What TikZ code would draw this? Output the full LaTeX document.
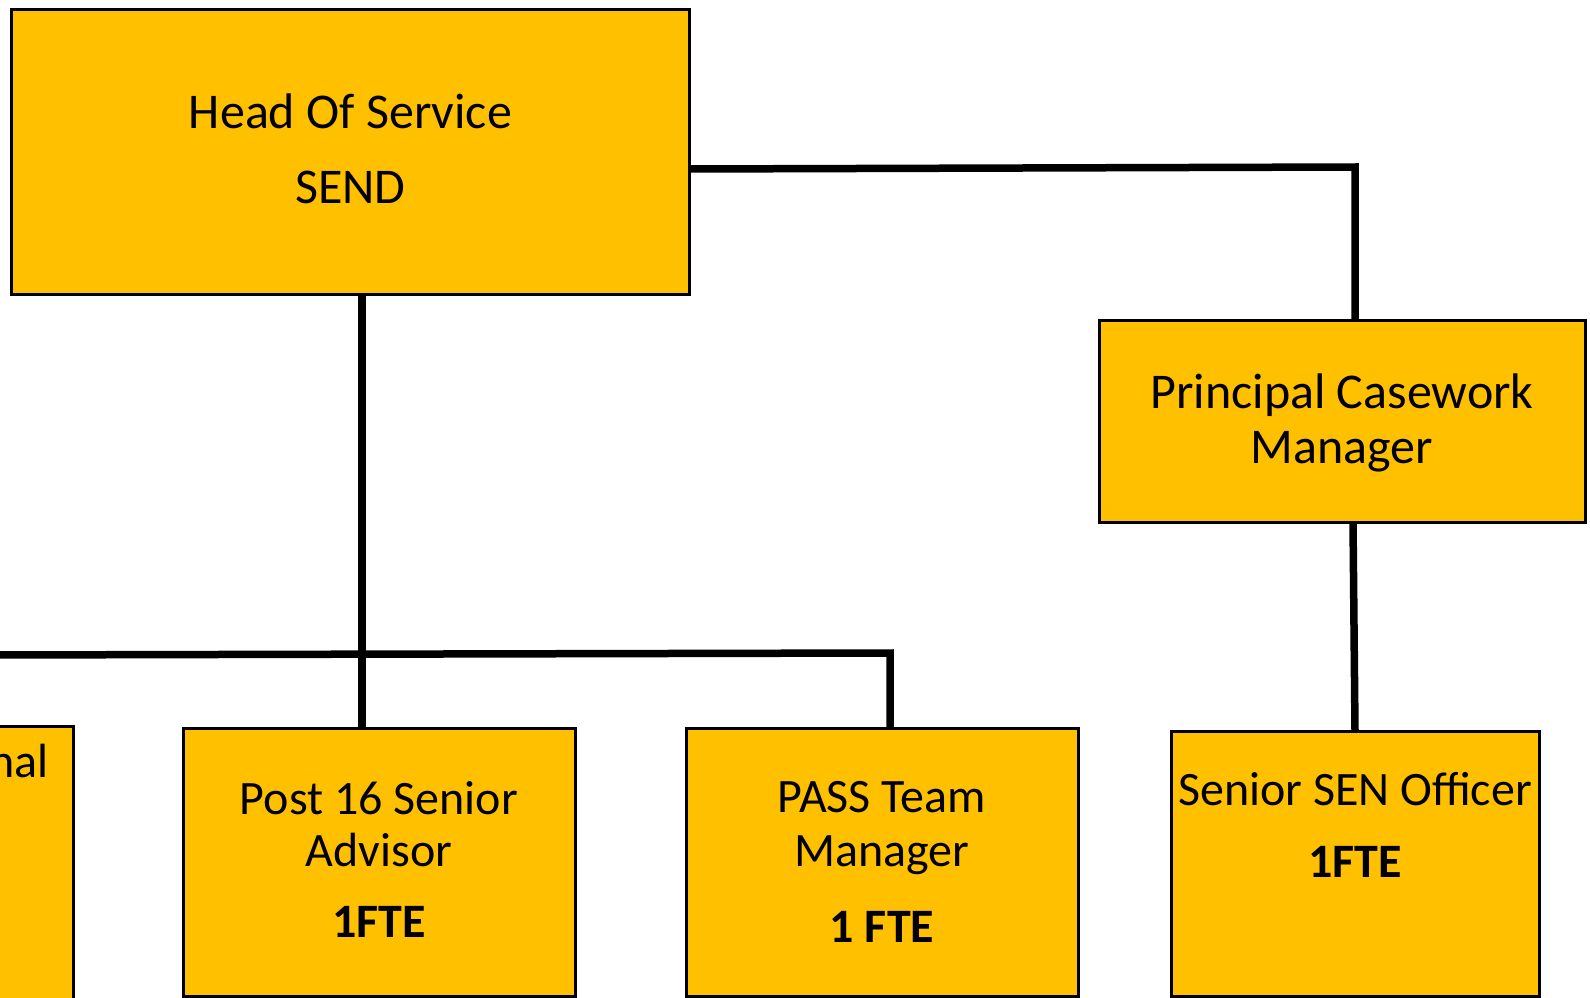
\documentclass[tikz,border=0pt]{standalone}
\usepackage{fontspec}
\setmainfont{Carlito}
\definecolor{gold}{HTML}{FFC000}
\begin{document}
\begin{tikzpicture}[x=1pt,y=-1pt,
  box/.style={draw=black,line width=3pt,fill=gold,rectangle,inner sep=0pt,outer sep=0pt},
  conn/.style={line width=7.5pt,black,line join=miter},
  lbl/.style={anchor=base,inner sep=0pt,font=\fontsize{48}{54}\selectfont},
  lblb/.style={lbl,font=\fontsize{48}{54}\selectfont\bfseries},
  lblh/.style={lbl,font=\fontsize{50}{56}\selectfont}]
\useasboundingbox (0,0) rectangle (1590,998);
\clip (0,0) rectangle (1590,998);

% helper coordinates for connector positions
\coordinate (c1) at (689.5,169);
\coordinate (c2) at (1355,167);
\coordinate (c3) at (1353,0);
\coordinate (c4) at (1355,0);
\coordinate (c5) at (362,0);
\coordinate (bl) at (-10,655);
\coordinate (c6) at (890,653);

% boxes (placed first for anchors, drawn on top later)
\path (350.5,152) node[box,draw=none,fill=none,minimum width=678pt,minimum height=284pt] (head) {};
\path (1342,421) node[box,draw=none,fill=none,minimum width=486pt,minimum height=202pt] (principal) {};
\path (379,862) node[box,draw=none,fill=none,minimum width=392pt,minimum height=268pt] (post) {};
\path (882,862) node[box,draw=none,fill=none,minimum width=392pt,minimum height=268pt] (pass) {};
\path (1355,863.5) node[box,draw=none,fill=none,minimum width=368pt,minimum height=265pt] (senior) {};

% connectors
\draw[conn] (c1) -- (c2) -- (principal.north -| c2);
\draw[conn] (principal.south -| c3) -- (senior.north -| c4);
\draw[conn] (head.south -| c5) -- (post.north -| c5);
\draw[conn] (bl) -- (c6) -- (pass.north -| c6);

% visible boxes
\node[box,minimum width=678pt,minimum height=284pt] (headbox) at (head.center) {};
\node[box,minimum width=486pt,minimum height=202pt] (principalbox) at (principal.center) {};
\node[box,minimum width=83pt,minimum height=284pt] (leftbox) at (31.5,868) {};
\node[box,minimum width=392pt,minimum height=268pt] (postbox) at (post.center) {};
\node[box,minimum width=392pt,minimum height=268pt] (passbox) at (pass.center) {};
\node[box,minimum width=368pt,minimum height=265pt] (seniorbox) at (senior.center) {};

% texts
\node[lblh] (t1) at (350.5,128) {Head Of Service};
\node[lblh] (t2) at (350.5,203) {SEND};
\node[lblh] (t3) at (1342,408) {Principal Casework};
\node[lblh] (t4) at (1342,463) {Manager};
\node[lbl,anchor=base east] (t5) at (49,777) {nal};
\node[lbl] (t6) at (379,814) {Post 16 Senior};
\node[lbl] (t7) at (379,866) {Advisor};
\node[lblb] (t8) at (379,937) {1FTE};
\node[lbl] (t9) at (882,812) {PASS Team};
\node[lbl] (t10) at (882,866) {Manager};
\node[lblb] (t11) at (882,942) {1 FTE};
\node[lbl] (t12) at (1355,805) {Senior SEN Officer};
\node[lblb] (t13) at (1355,877) {1FTE};
\end{tikzpicture}
\end{document}
